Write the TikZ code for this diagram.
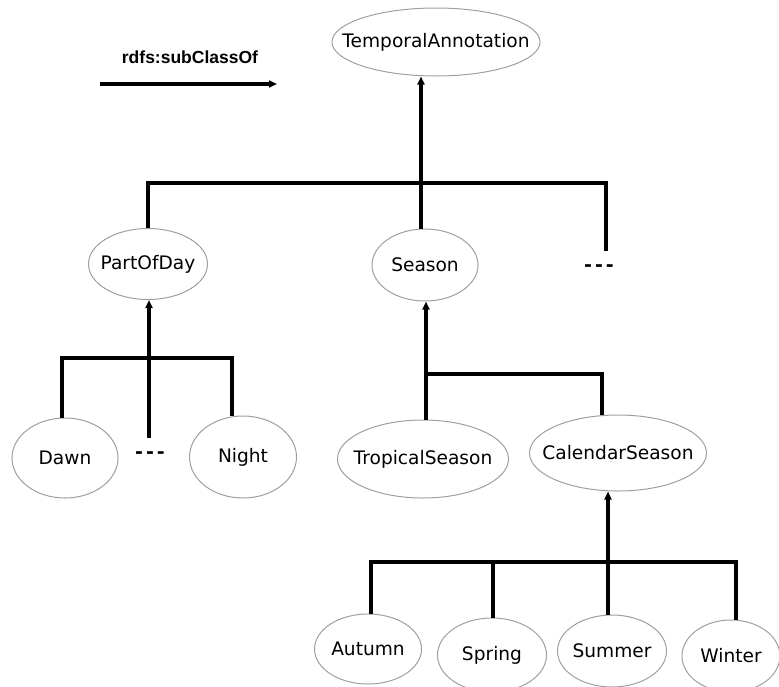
\documentclass[tikz,border=0pt]{standalone}
\usepackage{fontspec}
\setmainfont{DejaVu Sans}
\newfontfamily\legendfont{Liberation Sans}
\usetikzlibrary{arrows.meta, shapes.geometric}

\begin{document}
\begin{tikzpicture}[x=1pt, y=-1pt,
    cls/.style={ellipse, draw=gray!75, line width=1pt, inner xsep=-20pt, inner ysep=0pt,
        font=\fontsize{18.6}{22}\selectfont},
    link/.style={line width=3.1pt},
    isa/.style={link, -{Triangle[length=8pt, width=7pt]}},
    more/.style={font=\fontsize{19}{22}\selectfont\bfseries, inner sep=0pt}]
    \useasboundingbox (0,0) rectangle (779,686);

    % Legend
    \node[font=\legendfont\bfseries\fontsize{17.5}{20}\selectfont] (legend) at (190,57) {rdfs:subClassOf};
    \coordinate (legendA) at (100,84);
    \coordinate (legendB) at (277,84);
    \draw[isa] (legendA) -- (legendB);

    % Classes
    \node[cls, minimum width=205pt, minimum height=68pt] (temporal) at (436,42) {TemporalAnnotation};
    \node[cls, minimum width=119pt, minimum height=71pt] (partofday) at (148,264) {PartOfDay};
    \node[cls, minimum width=106pt, minimum height=72pt] (season) at (425,265) {Season};
    \node[more] (moreTop) at (599,268) {-\kern3pt-\kern3pt-};

    \node[cls, minimum width=106pt, minimum height=80pt] (dawn) at (65,458) {Dawn};
    \node[more] (moreDay) at (150,455) {-\kern3pt-\kern3pt-};
    \node[cls, minimum width=107pt, minimum height=82pt] (night) at (243,457) {Night};

    \node[cls, minimum width=171pt, minimum height=78pt] (tropical) at (423,459) {TropicalSeason};
    \node[cls, minimum width=177pt, minimum height=76pt] (calendar) at (618,453) {CalendarSeason};

    \node[cls, minimum width=107pt, minimum height=70pt] (autumn) at (368,649) {Autumn};
    \node[cls, minimum width=109pt, minimum height=74pt] (spring) at (492,655) {Spring};
    \node[cls, minimum width=109pt, minimum height=72pt] (summer) at (612,651) {Summer};
    \node[cls, minimum width=98pt, minimum height=72pt] (winter) at (731,656) {Winter};

    % Hierarchy of TemporalAnnotation
    \coordinate (barTop) at (421,183);
    \draw[isa] (barTop) -- (temporal.south -| barTop);
    \draw[link] (partofday.north) |- (barTop);
    \draw[link] (season.north -| barTop) -- (barTop);
    \draw[link] (moreTop.north -| 606,0) ++(0,-13) |- (barTop);

    % Hierarchy of PartOfDay
    \coordinate (barDay) at (149,358);
    \draw[isa] (moreDay.north -| barDay) ++(0,-13) -- (partofday.south -| barDay);
    \draw[link] (dawn.north -| 62,0) |- (barDay);
    \draw[link] (night.north -| 232,0) |- (barDay);

    % Hierarchy of Season
    \coordinate (barSeason) at (426,374);
    \draw[isa] (tropical.north -| barSeason) -- (season.south -| barSeason);
    \draw[link] (calendar.north -| 602,0) |- (barSeason);

    % Hierarchy of CalendarSeason
    \coordinate (barCal) at (608,562);
    \draw[isa] (summer.north -| barCal) -- (calendar.south -| barCal);
    \draw[link] (autumn.north -| 371,0) |- (barCal);
    \draw[link] (spring.north -| 493,0) |- (barCal);
    \draw[link] (winter.north -| 736,0) |- (barCal);
\end{tikzpicture}
\end{document}
